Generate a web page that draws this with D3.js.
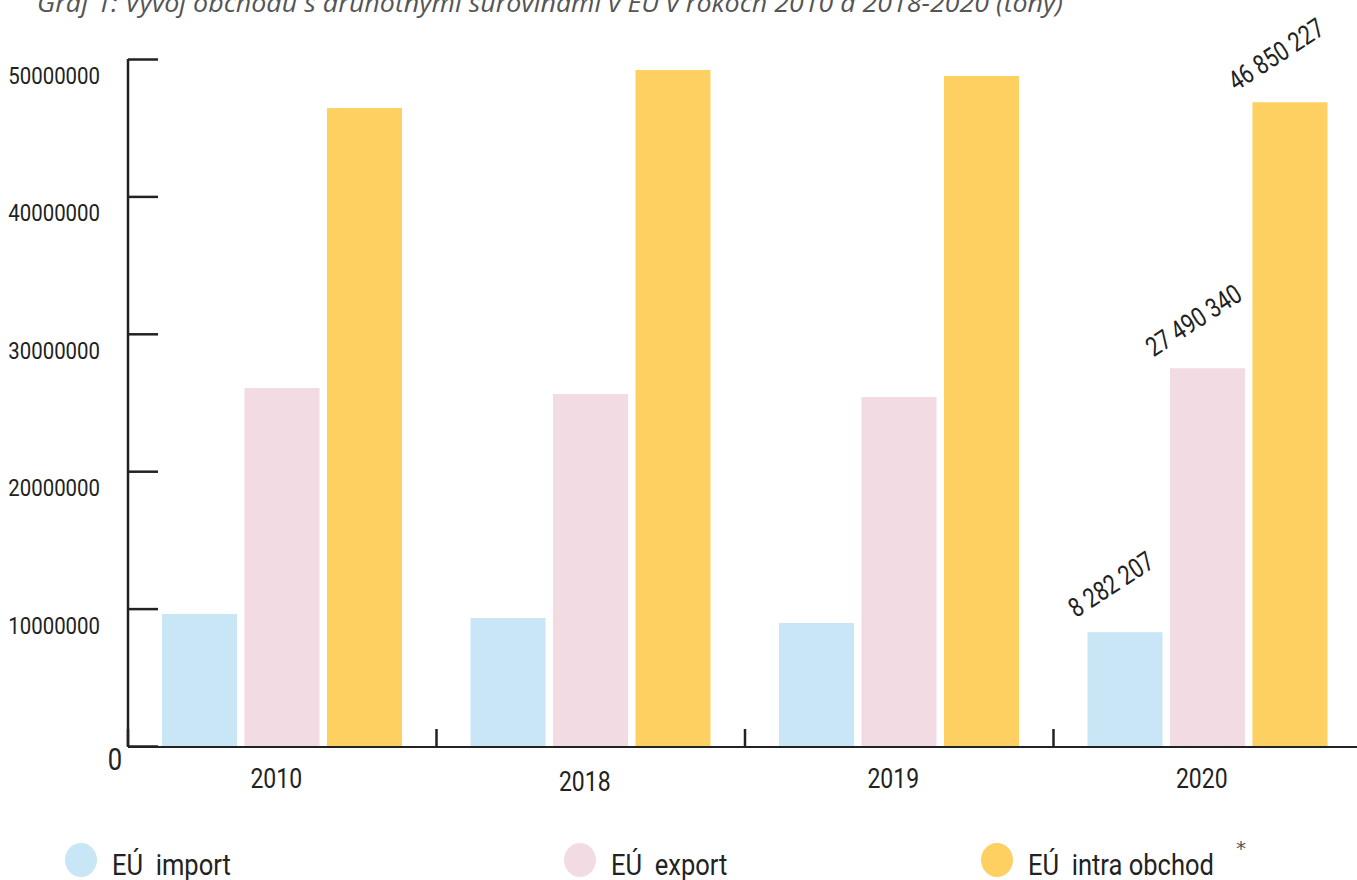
<!DOCTYPE html>
<html>
<head>
<meta charset="utf-8">
<script src="https://cdn.jsdelivr.net/npm/d3@7/dist/d3.min.js"></script>
<style>
  html, body { margin: 0; padding: 0; background: #fff; }
  svg { display: block; }
  .cond { font-family: "Roboto", "Liberation Sans", sans-serif; fill: #222; }
</style>
</head>
<body>
<svg id="chart" width="1357" height="880"></svg>
<script>
const titleText = "Graf 1: Vývoj obchodu s druhotnými surovinami v EÚ v rokoch 2010 a 2018-2020 (tony)";
const years = ["2010", "2018", "2019", "2020"];
const seriesNames = ["EÚ  import", "EÚ  export", "EÚ  intra obchod"];
const seriesKeys = ["import", "export", "intra"];
const importValues = [9610000, 9320000, 8950000, 8282207];
const exportValues = [26060000, 25620000, 25400000, 27490340];
const intraValues = [46430000, 49200000, 48760000, 46850227];
const yTicks = [0, 10000000, 20000000, 30000000, 40000000, 50000000];
const labelledYear = "2020";
const colors = ["#C8E6F6", "#F2DBE2", "#FED062"];

const svg = d3.select("#chart");
const W = 1357, H = 880;
const mLeft = 128, mBottom = 746, mTop = 59;

function condense(sel, factor) {
  sel.each(function () {
    const l = this.getComputedTextLength();
    if (l > 0) d3.select(this).attr("textLength", l * factor).attr("lengthAdjust", "spacingAndGlyphs");
  });
}

const y = d3.scaleLinear().domain([0, 50000000]).range([mBottom, mTop]);
const x0 = d3.scaleBand().domain(years).range([mLeft, mLeft + 4 * 308.5]).padding(0);
const x1 = d3.scaleBand().domain(seriesKeys).range([34, 274]).paddingInner(0.09);
const color = d3.scaleOrdinal().domain(seriesKeys).range(colors);

const data = years.map((yr, i) => ({
  year: yr,
  values: [
    { key: "import", value: importValues[i] },
    { key: "export", value: exportValues[i] },
    { key: "intra", value: intraValues[i] }
  ]
}));

// Title (partially cut off at top)
svg.append("text")
  .attr("x", 37).attr("y", 12)
  .attr("font-family", "'Open Sans', sans-serif")
  .attr("font-style", "italic")
  .attr("font-size", 26)
  .attr("fill", "#555")
  .attr("textLength", 1026)
  .attr("lengthAdjust", "spacingAndGlyphs")
  .text(titleText);

// Bars
const groups = svg.append("g").selectAll("g").data(data).join("g")
  .attr("transform", d => `translate(${x0(d.year)},0)`);
groups.selectAll("rect").data(d => d.values).join("rect")
  .attr("x", d => x1(d.key))
  .attr("width", x1.bandwidth())
  .attr("y", d => y(d.value))
  .attr("height", d => y(0) - y(d.value))
  .attr("fill", d => color(d.key));

// Value labels for last year
const fmt = v => d3.format(",")(v).replace(/,/g, " ");
const lab = data.find(d => d.year === labelledYear);
const vl = svg.append("g").selectAll("text").data(lab.values).join("text")
  .attr("class", "cond")
  .attr("font-size", 27)
  .attr("text-anchor", "middle")
  .attr("dy", "0.35em")
  .attr("transform", d => {
    const cx = x0(lab.year) + x1(d.key) + x1.bandwidth() / 2 - 14;
    const cy = y(d.value) - 48;
    return `translate(${cx},${cy}) rotate(-33)`;
  })
  .text(d => fmt(d.value));
condense(vl, 0.8);

// Y axis
const yAxis = d3.axisRight(y).tickValues(yTicks).tickSize(30).tickFormat("");
const gy = svg.append("g").attr("transform", `translate(${mLeft},0)`).call(yAxis);
gy.select(".domain").attr("d", `M0,${mTop}V${mBottom}`).attr("stroke", "#222").attr("stroke-width", 2.5);
gy.selectAll(".tick line").attr("stroke", "#222").attr("stroke-width", 2.5);

// Y tick labels
const yl = svg.append("g").selectAll("text").data(yTicks.filter(t => t > 0)).join("text")
  .attr("class", "cond")
  .attr("font-size", 24)
  .attr("text-anchor", "end")
  .attr("x", 100)
  .attr("y", d => y(d) + 25)
  .text(d => d3.format("d")(d));
condense(yl, 0.85);
const zl = svg.append("text").attr("class", "cond")
  .attr("font-size", 32).attr("text-anchor", "middle")
  .attr("x", 115).attr("y", y(0) + 24)
  .text("0");
condense(zl, 0.8);

// X axis
const xLine = svg.append("g");
xLine.append("line")
  .attr("x1", mLeft).attr("x2", W).attr("y1", mBottom + 1).attr("y2", mBottom + 1)
  .attr("stroke", "#222").attr("stroke-width", 2);
xLine.selectAll("line.xt").data(years).join("line").attr("class", "xt")
  .attr("x1", d => x0(d)).attr("x2", d => x0(d))
  .attr("y1", mBottom - 17).attr("y2", mBottom + 1)
  .attr("stroke", "#222").attr("stroke-width", 2.5);

// Year labels
const xl = svg.append("g").selectAll("text").data(years).join("text")
  .attr("class", "cond")
  .attr("font-size", 28)
  .attr("text-anchor", "middle")
  .attr("x", d => x0(d) + x0.bandwidth() / 2 - 6)
  .attr("y", (d, i) => i === 1 ? 791 : 788)
  .text(d => d);
condense(xl, 0.82);

// Legend
const legendX = [81, 580, 997];
const leg = svg.append("g").selectAll("g").data(seriesKeys).join("g")
  .attr("transform", (d, i) => `translate(${legendX[i]},860)`);
leg.append("ellipse").attr("rx", 16).attr("ry", 17).attr("fill", d => color(d));
const lt = leg.append("text").attr("class", "cond")
  .attr("xml:space", "preserve")
  .style("white-space", "pre")
  .attr("font-size", 29)
  .attr("x", 31).attr("y", 15)
  .text((d, i) => seriesNames[i]);
condense(lt, 0.88);
svg.append("text")
  .attr("font-family", "'DejaVu Sans', sans-serif")
  .attr("font-size", 20).attr("fill", "#555")
  .attr("x", 1236).attr("y", 855)
  .text("*");
</script>
</body>
</html>
